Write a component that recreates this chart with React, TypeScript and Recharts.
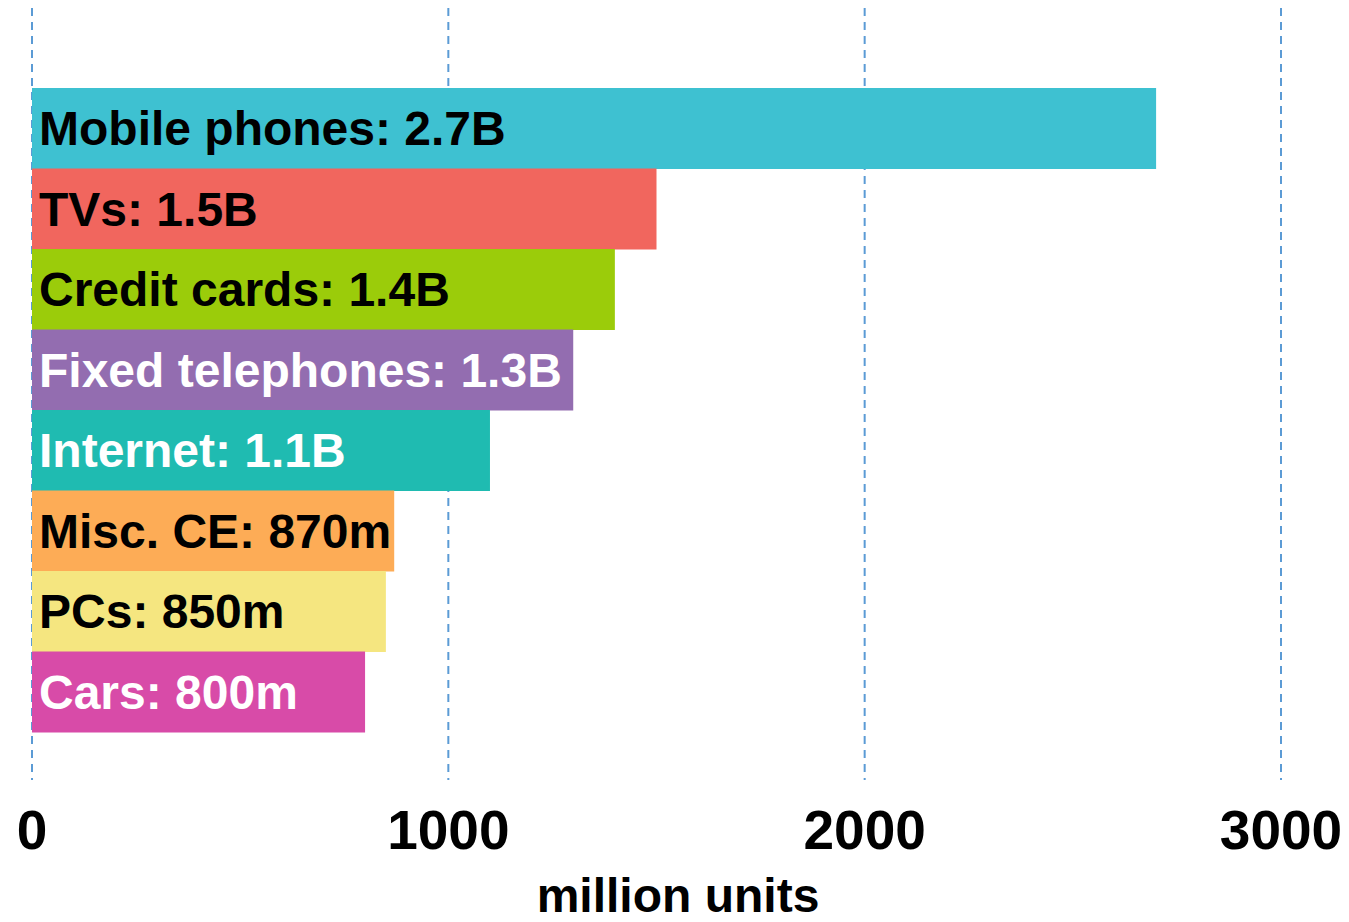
import React from 'react';
import { BarChart, Bar, XAxis, YAxis, CartesianGrid, Cell, LabelList } from 'recharts';

const categories = ['Mobile phones', 'TVs', 'Credit cards', 'Fixed telephones', 'Internet', 'Misc. CE', 'PCs', 'Cars'];
const values = [2700, 1500, 1400, 1300, 1100, 870, 850, 800];
const valueLabels = ['2.7B', '1.5B', '1.4B', '1.3B', '1.1B', '870m', '850m', '800m'];
const barColors = ['#3ec1d1', '#f1665e', '#9bcc0a', '#936db0', '#1fbbb1', '#fdac56', '#f5e680', '#d84ba8'];
const labelColors = ['#000', '#000', '#000', '#fff', '#fff', '#000', '#000', '#fff'];
const xTicks = [0, 1000, 2000, 3000];

const data = categories.map((name, i) => ({
  name,
  value: values[i],
  label: `${name}: ${valueLabels[i]}`,
}));

const FONT = '"Liberation Sans", Arial, sans-serif';

const BarLabel = (props: any) => {
  const { x, y, height, index } = props;
  return (
    <text
      x={x + 7}
      y={y + height / 2}
      dominantBaseline="central"
      textAnchor="start"
      fill={labelColors[index]}
      fontFamily={FONT}
      fontWeight="bold"
      fontSize={48}
    >
      {data[index].label}
    </text>
  );
};

const XTick = (props: any) => {
  const { x, y, payload } = props;
  return (
    <text x={x} y={y + 69} textAnchor="middle" fill="#000" fontFamily={FONT} fontWeight="bold" fontSize={55}>
      {payload.value}
    </text>
  );
};

const App: React.FC = () => {
  return (
    <div style={{ position: 'absolute', left: 0, top: 0, width: 1349, height: 922, background: '#fff' }}>
      <BarChart
        width={1349}
        height={922}
        data={data}
        layout="vertical"
        barCategoryGap={0}
        margin={{ top: 8, right: 68, bottom: 0, left: 32 }}
      >
        <CartesianGrid
          horizontal={false}
          vertical
          stroke="#5b9bd5"
          strokeWidth={2}
          strokeDasharray="8 6"
        />
        <XAxis
          type="number"
          domain={[0, 3000]}
          ticks={xTicks}
          axisLine={false}
          tickLine={false}
          tickSize={0}
          tickMargin={0}
          height={142}
          tick={<XTick />}
          interval={0}
        />
        <YAxis type="category" dataKey="name" hide padding={{ top: 80, bottom: 48 }} />
        <Bar dataKey="value" isAnimationActive={false}>
          {data.map((d, i) => (
            <Cell key={d.name} fill={barColors[i]} />
          ))}
          <LabelList dataKey="label" content={<BarLabel />} />
        </Bar>
        <text x={678} y={912} textAnchor="middle" fill="#000" fontFamily={FONT} fontWeight="bold" fontSize={48}>
          million units
        </text>
      </BarChart>
    </div>
  );
};

export default App;
